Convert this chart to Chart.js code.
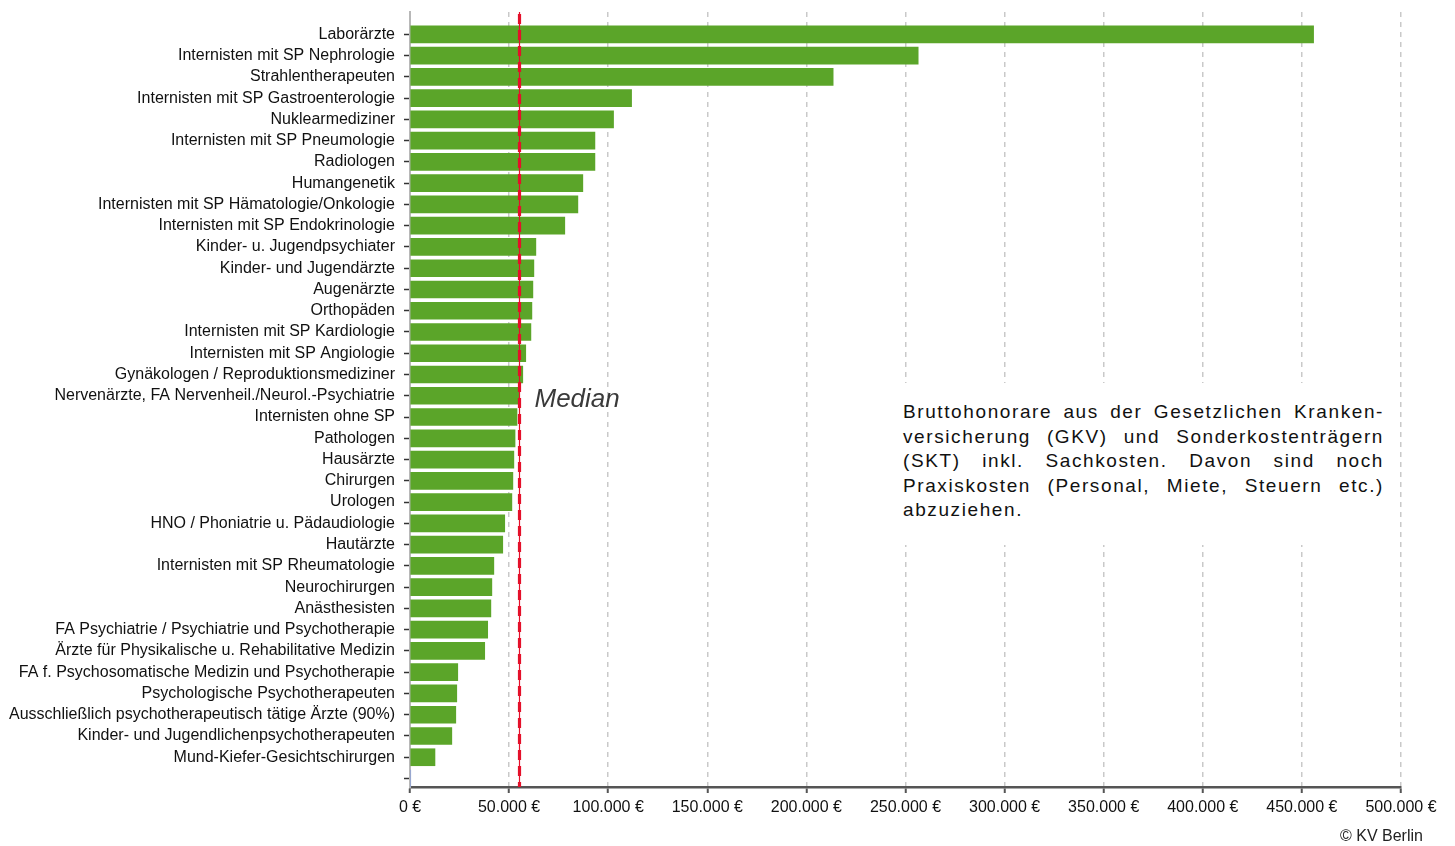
<!DOCTYPE html>
<html><head><meta charset="utf-8">
<script src="https://cdn.jsdelivr.net/npm/chart.js@4.4.0/dist/chart.umd.min.js"></script>
<style>
html,body{margin:0;padding:0;background:#fff;}
#wrap{position:relative;width:1455px;height:846px;overflow:hidden;}
#c{position:absolute;left:0;top:0;}
#note{position:absolute;left:890px;top:383px;width:481px;padding:17px 13px 0 13px;height:145px;background:#fff;font-family:"Liberation Sans",Arial,sans-serif;font-size:19px;letter-spacing:1.6px;line-height:24.5px;color:#111;}
#note div{text-align:justify;text-align-last:justify;white-space:nowrap;}
#note div.last{text-align-last:left;}
#copy{position:absolute;left:1340px;top:827px;font:16px "Liberation Sans",Arial,sans-serif;color:#222;}
</style></head>
<body>
<div id="wrap">
<canvas id="c" width="1455" height="846" style="width:1455px;height:846px"></canvas>
<div id="note">
<div>Bruttohonorare aus der Gesetzlichen Kranken-</div>
<div>versicherung (GKV) und Sonderkostenträgern</div>
<div>(SKT) inkl. Sachkosten. Davon sind noch</div>
<div>Praxiskosten (Personal, Miete, Steuern etc.)</div>
<div class="last">abzuziehen.</div>
</div>
<div id="copy">© KV Berlin</div>
</div>
<script>
const categories = [
  "Laborärzte",
  "Internisten mit SP Nephrologie",
  "Strahlentherapeuten",
  "Internisten mit SP Gastroenterologie",
  "Nuklearmediziner",
  "Internisten mit SP Pneumologie",
  "Radiologen",
  "Humangenetik",
  "Internisten mit SP Hämatologie/Onkologie",
  "Internisten mit SP Endokrinologie",
  "Kinder- u. Jugendpsychiater",
  "Kinder- und Jugendärzte",
  "Augenärzte",
  "Orthopäden",
  "Internisten mit SP Kardiologie",
  "Internisten mit SP Angiologie",
  "Gynäkologen / Reproduktionsmediziner",
  "Nervenärzte, FA Nervenheil./Neurol.-Psychiatrie",
  "Internisten ohne SP",
  "Pathologen",
  "Hausärzte",
  "Chirurgen",
  "Urologen",
  "HNO / Phoniatrie u. Pädaudiologie",
  "Hautärzte",
  "Internisten mit SP Rheumatologie",
  "Neurochirurgen",
  "Anästhesisten",
  "FA Psychiatrie / Psychiatrie und Psychotherapie",
  "Ärzte für Physikalische u. Rehabilitative Medizin",
  "FA f. Psychosomatische Medizin und Psychotherapie",
  "Psychologische Psychotherapeuten",
  "Ausschließlich psychotherapeutisch tätige Ärzte (90%)",
  "Kinder- und Jugendlichenpsychotherapeuten",
  "Mund-Kiefer-Gesichtschirurgen",
  ""
];
const values = [
  455900, 256400, 213500, 111800, 102700, 93300, 93300, 87200, 84700, 78100,
  63500, 62500, 62000, 61500, 61000, 58400, 56900, 55000, 54000, 53000,
  52400, 51900, 51400, 47800, 46800, 42300, 41300, 40800, 39200, 37700,
  24100, 23600, 23100, 21100, 12600, 300
];
const medianValue = 55100;
const medianLabel = "Median";
const xTickLabels = ["0 €","50.000 €","100.000 €","150.000 €","200.000 €","250.000 €","300.000 €","350.000 €","400.000 €","450.000 €","500.000 €"];

const FONT = '"Liberation Sans", Arial, sans-serif';

const medianPlugin = {
  id: 'medianLine',
  afterDatasetsDraw(chart) {
    const {ctx, chartArea, scales} = chart;
    const px = Math.round(scales.x.getPixelForValue(medianValue)) + 0.5;
    ctx.save();
    ctx.strokeStyle = '#e4102a';
    ctx.lineWidth = 1.2;
    ctx.beginPath();
    ctx.moveTo(px, chartArea.top);
    ctx.lineTo(px, chartArea.bottom);
    ctx.stroke();
    ctx.lineWidth = 3.2;
    ctx.setLineDash([10, 6]);
    ctx.beginPath();
    ctx.moveTo(px, chartArea.top + 2);
    ctx.lineTo(px, chartArea.bottom);
    ctx.stroke();
    ctx.setLineDash([]);
    ctx.font = 'italic 26px ' + FONT;
    ctx.fillStyle = '#3a3a3a';
    ctx.textBaseline = 'middle';
    ctx.textAlign = 'left';
    ctx.fillText(medianLabel, px + 15, scales.y.getPixelForValue(17.2));
    ctx.restore();
  }
};

new Chart(document.getElementById('c'), {
  type: 'bar',
  data: {
    datasets: [{
      data: values.map((v, i) => ({x: v, y: i})),
      backgroundColor: (c) => c.dataIndex === categories.length - 1 ? '#8ea2d8' : '#5ba529',
      borderWidth: 0,
      barThickness: 17
    }]
  },
  options: {
    indexAxis: 'y',
    responsive: false,
    animation: false,
    layout: {padding: {top: 12, right: 54, left: 0, bottom: 0}},
    plugins: {legend: {display: false}, tooltip: {enabled: false}},
    scales: {
      x: {
        type: 'linear',
        min: 0, max: 500000,
        offset: false,
        ticks: {
          stepSize: 50000,
          color: '#111',
          font: {family: FONT, size: 16},
          padding: 5,
          maxRotation: 0,
          callback: (v, i) => xTickLabels[i]
        },
        grid: {
          offset: false,
          color: (c) => (c.tick && c.tick.value === 0) ? 'rgba(0,0,0,0)' : '#c9c9c9',
          lineWidth: 1.5,
          drawTicks: true,
          tickLength: 6,
          tickColor: '#555',
          tickWidth: 2,
          tickBorderDash: []
        },
        border: {display: true, color: '#555', width: 2.5, dash: [5, 5]},
        afterFit: (s) => { s.height = 59; s.paddingLeft = 0; s.paddingRight = 0; }
      },
      y: {
        type: 'linear',
        reverse: true,
        offset: false,
        min: -1.05,
        max: 35.4,
        afterBuildTicks: (axis) => { axis.ticks = categories.map((_, i) => ({value: i})); },
        ticks: {
          autoSkip: false,
          color: '#111',
          font: {family: FONT, size: 16},
          padding: 9,
          callback: (v) => categories[v] !== undefined ? categories[v] : ''
        },
        grid: {
          offset: false,
          drawOnChartArea: false,
          drawTicks: true,
          tickLength: 6,
          tickColor: '#333',
          tickWidth: 1.5
        },
        border: {display: true, color: '#b8b8b8', width: 2},
        afterFit: (s) => { s.width = 410; s.paddingTop = 0; s.paddingBottom = 0; }
      }
    }
  },
  plugins: [medianPlugin]
});
</script>
</body></html>
